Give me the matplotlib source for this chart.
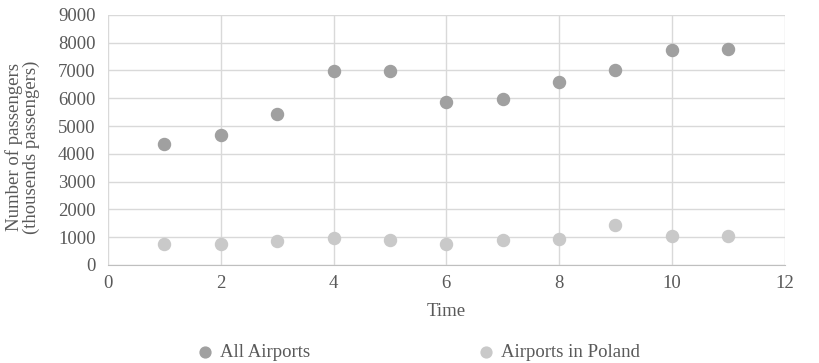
import matplotlib.pyplot as plt

# datos
time = [1, 2, 3, 4, 5, 6, 7, 8, 9, 10, 11]
all_airports = [4360, 4690, 5420, 6975, 6975, 5855, 5990, 6590, 7010, 7735, 7770]
poland = [770, 770, 880, 975, 905, 760, 900, 940, 1435, 1060, 1060]

plt.rcParams['font.family'] = ['Liberation Serif', 'DejaVu Serif']

fig = plt.figure(figsize=(8.19, 3.63), dpi=100)
ax = fig.add_axes([0.132, 0.270, 0.826, 0.689])

ax.scatter(time, all_airports, s=75, color='#a0a0a0', label='All Airports', zorder=3)
ax.scatter(time, poland, s=75, color='#c9c9c9', label='Airports in Poland', zorder=3)

ax.set_xlim(0, 12)
ax.set_ylim(0, 9000)
ax.set_xticks(range(0, 13, 2))
ax.set_yticks(range(0, 9001, 1000))
ax.grid(True, color='#d9d9d9', linewidth=1)
ax.set_axisbelow(True)
for s in ['top', 'right', 'left']:
    ax.spines[s].set_visible(False)
ax.spines['bottom'].set_color('#bfbfbf')
ax.tick_params(length=0, labelsize=13.5, colors='#595959')
ax.tick_params(axis='x', pad=7)
ax.tick_params(axis='y', pad=9)

ax.set_xlabel('Time', fontsize=13.5, color='#595959')
ax.xaxis.set_label_coords(0.5, -0.184)
ax.xaxis.label.set_va('center')
ax.set_ylabel('Number of passengers\n(thousends passengers)', fontsize=13.5, color='#595959',
              linespacing=1.0)
ax.yaxis.set_label_coords(-0.126, 0.472)
ax.yaxis.label.set_va('center')

fig.legend(loc='center', bbox_to_anchor=(0.51, 0.03), ncol=2, frameon=False,
           fontsize=13.5, columnspacing=8.9, handlelength=1.0, handletextpad=0.3,
           markerscale=0.9, labelcolor='#595959')

fig.savefig('out.png', dpi=100)
